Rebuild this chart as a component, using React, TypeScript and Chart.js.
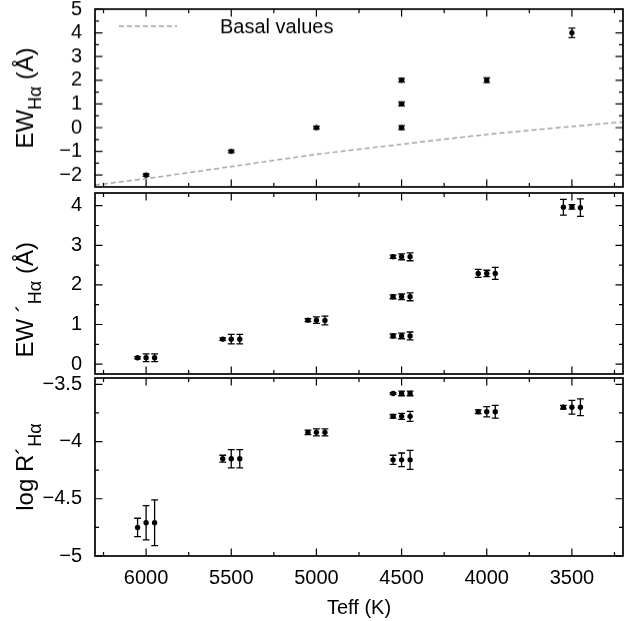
import React, { useEffect, useRef } from 'react';
import { Chart, registerables } from 'chart.js';

Chart.register(...registerables);

const FONT = "'Liberation Sans', Arial, Helvetica, sans-serif";

// ---------- data ----------
const teffGroups = [6000, 5500, 5000, 4500, 4500, 4500, 4000, 3500];
const teffOffsets = [50, 0, -50];

// top panel: EW_Halpha
const ewValues = [-2, -1, 0, 0, 1, 2, 2, 4];
const ewErrors = [0.05, 0.05, 0.06, 0.08, 0.08, 0.08, 0.1, 0.2];

// basal values (dashed line)
const basalTeff = [6300, 6000, 5500, 5000, 4500, 4000, 3500, 3200];
const basalEW = [-2.42, -2.15, -1.64, -1.13, -0.7, -0.29, 0.05, 0.24];
const basalLabel = 'Basal values';

// middle panel: EW' Halpha (three estimates per star)
const ewPrimeA = [0.16, 0.63, 1.11, 0.71, 1.7, 2.71, 2.29, 3.96];
const ewPrimeB = [0.16, 0.63, 1.11, 0.71, 1.7, 2.71, 2.29, 3.97];
const ewPrimeC = [0.16, 0.63, 1.1, 0.71, 1.7, 2.71, 2.29, 3.95];
const ewPrimeErrA = [0.03, 0.03, 0.04, 0.05, 0.05, 0.04, 0.1, 0.2];
const ewPrimeErrB = [0.1, 0.12, 0.08, 0.07, 0.07, 0.075, 0.08, 0.055];
const ewPrimeErrC = [0.1, 0.12, 0.11, 0.1, 0.1, 0.1, 0.15, 0.22];

// bottom panel: log R'Halpha
const logRA = [-4.75, -4.15, -3.92, -4.16, -3.78, -3.58, -3.74, -3.7];
const logRB = [-4.71, -4.15, -3.92, -4.16, -3.78, -3.58, -3.74, -3.7];
const logRC = [-4.71, -4.15, -3.92, -4.16, -3.78, -3.58, -3.74, -3.7];
const logRErrA = [0.08, 0.03, 0.02, 0.04, 0.016, 0.008, 0.017, 0.016];
const logRErrB = [0.15, 0.08, 0.03, 0.06, 0.026, 0.02, 0.045, 0.06];
const logRErrC = [0.2, 0.08, 0.03, 0.083, 0.044, 0.02, 0.055, 0.073];

// ticks
const xTicks = [6000, 5500, 5000, 4500, 4000, 3500];
const xMinorTicks = [6250, 5750, 5250, 4750, 4250, 3750, 3250];
const ewTicks = [-2, -1, 0, 1, 2, 3, 4, 5];
const ewMinorTicks = [-1.5, -0.5, 0.5, 1.5, 2.5, 3.5, 4.5];
const ewPrimeTicks = [0, 1, 2, 3, 4];
const ewPrimeMinorTicks = [0.5, 1.5, 2.5, 3.5];
const logRTicks = [-5, -4.5, -4, -3.5];
const logRMinorTicks = [-4.75, -4.25, -3.75];

const xLabel = 'Teff (K)';

type TitlePart = { text: string; sub?: boolean };
const ewTitle: TitlePart[] = [{ text: 'EW' }, { text: 'Hα', sub: true }, { text: ' (Å)' }];
const ewPrimeTitle: TitlePart[] = [{ text: 'EW ´' }, { text: 'Hα', sub: true }, { text: ' (Å)' }];
const logRTitle: TitlePart[] = [{ text: 'log R´' }, { text: 'Hα', sub: true }];

// ---------- helpers ----------
const fmt = (v: number) => (v < 0 ? '\u2212' + String(Math.abs(v)) : String(v));

function pts(values: number[], offset: number) {
  return values.map((v, i) => ({ x: teffGroups[i] + offset, y: v }));
}

function pointDataset(values: number[], errors: number[], offset: number) {
  return {
    label: 'data',
    data: pts(values, offset),
    errors,
    pointRadius: 2.7,
    pointHoverRadius: 2.7,
    pointBackgroundColor: '#000',
    pointBorderWidth: 0,
    borderColor: '#000',
    showLine: false,
  };
}

const errorBarPlugin = {
  id: 'errorBars',
  afterDatasetsDraw(chart: any) {
    const ctx = chart.ctx;
    const ys = chart.scales.y;
    ctx.save();
    ctx.strokeStyle = '#000';
    ctx.lineWidth = 1.3;
    chart.data.datasets.forEach((ds: any, di: number) => {
      if (!ds.errors) return;
      const meta = chart.getDatasetMeta(di);
      meta.data.forEach((el: any, i: number) => {
        const v = ds.data[i].y;
        const e = ds.errors[i];
        const x = el.x;
        const y1 = ys.getPixelForValue(v - e);
        const y2 = ys.getPixelForValue(v + e);
        const cw = 3.4;
        ctx.beginPath();
        ctx.moveTo(x, y1);
        ctx.lineTo(x, y2);
        ctx.moveTo(x - cw, y1);
        ctx.lineTo(x + cw, y1);
        ctx.moveTo(x - cw, y2);
        ctx.lineTo(x + cw, y2);
        ctx.stroke();
      });
    });
    ctx.restore();
  },
};

function makeFramePlugin(yMajor: number[], yMinor: number[]) {
  return {
    id: 'gnuFrame',
    afterDraw(chart: any) {
      const ctx = chart.ctx;
      const a = chart.chartArea;
      const xs = chart.scales.x;
      const ys = chart.scales.y;
      ctx.save();
      ctx.strokeStyle = '#000';
      ctx.lineWidth = 1.2;
      const major = 7.5;
      const minor = 4;
      ctx.beginPath();
      const vx = (vals: number[], len: number) => {
        vals.forEach((v) => {
          const px = xs.getPixelForValue(v);
          ctx.moveTo(px, a.bottom);
          ctx.lineTo(px, a.bottom - len);
          ctx.moveTo(px, a.top);
          ctx.lineTo(px, a.top + len);
        });
      };
      const vy = (vals: number[], len: number) => {
        vals.forEach((v) => {
          const py = ys.getPixelForValue(v);
          ctx.moveTo(a.left, py);
          ctx.lineTo(a.left + len, py);
          ctx.moveTo(a.right, py);
          ctx.lineTo(a.right - len, py);
        });
      };
      vx(xTicks, major);
      vx(xMinorTicks, minor);
      vy(yMajor, major);
      vy(yMinor, minor);
      ctx.stroke();
      ctx.lineWidth = 1.7;
      ctx.strokeRect(a.left, a.top, a.right - a.left, a.bottom - a.top);
      ctx.restore();
    },
  };
}

function makeYTitlePlugin(parts: TitlePart[], startOffset: number) {
  // startOffset: distance of the title's first glyph below the chart-area centre (0 = centred)
  return {
    id: 'yTitle',
    afterDraw(chart: any) {
      const ctx = chart.ctx;
      const a = chart.chartArea;
      const size = 24;
      const subSize = 18;
      ctx.save();
      ctx.fillStyle = '#000';
      ctx.textBaseline = 'alphabetic';
      ctx.textAlign = 'left';
      const widths = parts.map((p) => {
        ctx.font = `${p.sub ? subSize : size}px ${FONT}`;
        return ctx.measureText(p.text).width;
      });
      const total = widths.reduce((s, w) => s + w, 0);
      const cy = (a.top + a.bottom) / 2;
      const start = startOffset === 0 ? total / 2 : startOffset;
      ctx.translate(a.left - 62, cy);
      ctx.rotate(-Math.PI / 2);
      let pos = -start;
      parts.forEach((p, i) => {
        ctx.font = `${p.sub ? subSize : size}px ${FONT}`;
        ctx.fillText(p.text, pos, p.sub ? 8 : 0);
        pos += widths[i];
      });
      ctx.restore();
    },
  };
}

const legendPlugin = {
  id: 'basalLegend',
  afterDraw(chart: any) {
    const ctx = chart.ctx;
    const a = chart.chartArea;
    const ds = chart.data.datasets.find((d: any) => d.isBasal);
    if (!ds) return;
    ctx.save();
    ctx.strokeStyle = ds.borderColor;
    ctx.lineWidth = ds.borderWidth;
    ctx.setLineDash(ds.borderDash);
    ctx.beginPath();
    ctx.moveTo(a.left + 24, a.top + 17);
    ctx.lineTo(a.left + 82, a.top + 17);
    ctx.stroke();
    ctx.setLineDash([]);
    ctx.fillStyle = '#000';
    ctx.font = `20px ${FONT}`;
    ctx.textAlign = 'left';
    ctx.textBaseline = 'middle';
    ctx.fillText(ds.label, a.left + 125, a.top + 18.5);
    ctx.restore();
  },
};

const xTitlePlugin = {
  id: 'xTitle',
  afterDraw(chart: any) {
    const ctx = chart.ctx;
    const a = chart.chartArea;
    ctx.save();
    ctx.fillStyle = '#000';
    ctx.font = `20px ${FONT}`;
    ctx.textAlign = 'center';
    ctx.textBaseline = 'middle';
    ctx.fillText(xLabel, (a.left + a.right) / 2, a.bottom + 52);
    ctx.restore();
  },
};

function buildConfig(opts: {
  datasets: any[];
  yMin: number;
  yMax: number;
  yMajor: number[];
  yMinor: number[];
  showX: boolean;
  xHeight?: number;
  title: TitlePart[];
  titleStart: number;
  extraPlugins: any[];
}) {
  return {
    type: 'scatter' as const,
    data: { datasets: opts.datasets },
    options: {
      animation: false,
      responsive: false,
      maintainAspectRatio: false,
      events: [],
      layout: { padding: { top: 0, right: 17, bottom: 0, left: 0 } },
      plugins: { legend: { display: false }, tooltip: { enabled: false } },
      scales: {
        x: {
          type: 'linear',
          reverse: true,
          min: 3200,
          max: 6300,
          display: opts.showX,
          grid: { display: false, drawTicks: false },
          border: { display: false },
          afterBuildTicks: (s: any) => {
            s.ticks = xTicks.map((v) => ({ value: v }));
          },
          afterFit: (s: any) => {
            if (opts.xHeight !== undefined) s.height = opts.xHeight;
          },
          ticks: {
            autoSkip: false,
            maxRotation: 0,
            padding: 10,
            color: '#000',
            font: { family: FONT, size: 20 },
            callback: (v: any) => fmt(Number(v)),
          },
        },
        y: {
          type: 'linear',
          min: opts.yMin,
          max: opts.yMax,
          grid: { display: false, drawTicks: false },
          border: { display: false },
          afterBuildTicks: (s: any) => {
            s.ticks = opts.yMajor.map((v) => ({ value: v }));
          },
          afterFit: (s: any) => {
            s.width = 95;
          },
          ticks: {
            autoSkip: false,
            padding: 13,
            color: '#000',
            font: { family: FONT, size: 20 },
            callback: (v: any) => fmt(Number(v)),
          },
        },
      },
    },
    plugins: [
      errorBarPlugin,
      makeFramePlugin(opts.yMajor, opts.yMinor),
      makeYTitlePlugin(opts.title, opts.titleStart),
      ...opts.extraPlugins,
    ],
  };
}

// plotTop / plotBottom: where the frame of the panel must sit on the page
function Panel(props: { plotTop: number; plotBottom: number; config: any }) {
  const ref = useRef<HTMLCanvasElement>(null);
  useEffect(() => {
    const canvas = ref.current;
    if (!canvas) return;
    const span = props.plotBottom - props.plotTop;
    let h = span + 120;
    canvas.width = 640;
    canvas.height = h;
    canvas.style.height = h + 'px';
    let chart = new Chart(canvas, props.config);
    const t0 = chart.chartArea.top;
    const b0 = chart.height - chart.chartArea.bottom;
    chart.destroy();
    h = span + t0 + b0;
    canvas.width = 640;
    canvas.height = h;
    canvas.style.height = h + 'px';
    canvas.style.top = props.plotTop - t0 + 'px';
    chart = new Chart(canvas, props.config);
    return () => chart.destroy();
  }, []);
  return <canvas ref={ref} style={{ position: 'absolute', left: 0, top: 0, width: 640 }} />;
}

export default function App() {
  const topConfig = buildConfig({
    datasets: [
      {
        label: basalLabel,
        isBasal: true,
        data: basalTeff.map((t, i) => ({ x: t, y: basalEW[i] })),
        showLine: true,
        pointRadius: 0,
        borderColor: '#a3a3a3',
        borderWidth: 1.5,
        borderDash: [5, 3],
        tension: 0.3,
      },
      pointDataset(ewValues, ewErrors, 0),
    ],
    yMin: -2.5,
    yMax: 5,
    yMajor: ewTicks,
    yMinor: ewMinorTicks,
    showX: false,
    title: ewTitle,
    titleStart: 0,
    extraPlugins: [legendPlugin],
  });

  const midConfig = buildConfig({
    datasets: [
      pointDataset(ewPrimeA, ewPrimeErrA, teffOffsets[0]),
      pointDataset(ewPrimeB, ewPrimeErrB, teffOffsets[1]),
      pointDataset(ewPrimeC, ewPrimeErrC, teffOffsets[2]),
    ],
    yMin: -0.25,
    yMax: 4.32,
    yMajor: ewPrimeTicks,
    yMinor: ewPrimeMinorTicks,
    showX: false,
    title: ewPrimeTitle,
    titleStart: 74,
    extraPlugins: [],
  });

  const botConfig = buildConfig({
    datasets: [
      pointDataset(logRA, logRErrA, teffOffsets[0]),
      pointDataset(logRB, logRErrB, teffOffsets[1]),
      pointDataset(logRC, logRErrC, teffOffsets[2]),
    ],
    yMin: -5,
    yMax: -3.445,
    yMajor: logRTicks,
    yMinor: logRMinorTicks,
    showX: true,
    xHeight: 65,
    title: logRTitle,
    titleStart: 0,
    extraPlugins: [xTitlePlugin],
  });

  return (
    <div style={{ position: 'absolute', left: 0, top: 0, width: 640, height: 621, background: '#fff', overflow: 'hidden' }}>
      <Panel plotTop={9} plotBottom={186.7} config={topConfig} />
      <Panel plotTop={193} plotBottom={374} config={midConfig} />
      <Panel plotTop={378} plotBottom={556} config={botConfig} />
    </div>
  );
}
